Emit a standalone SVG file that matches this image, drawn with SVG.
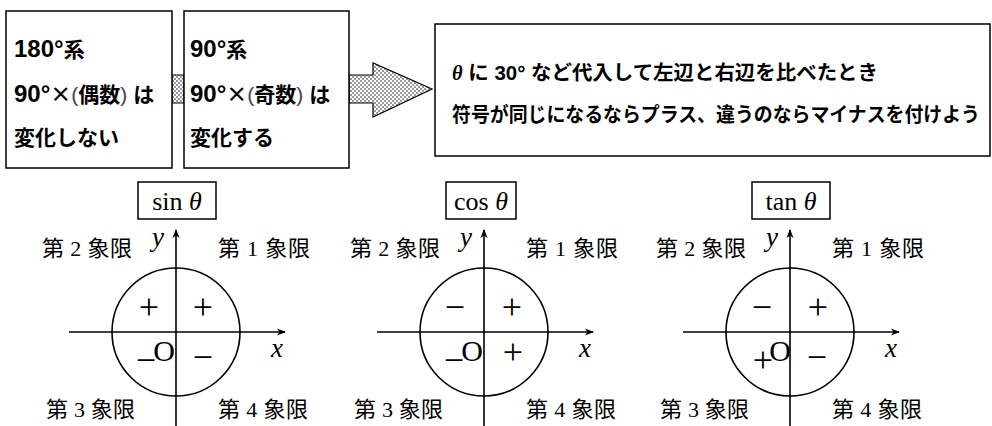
<svg xmlns="http://www.w3.org/2000/svg" width="992" height="426" viewBox="0 0 992 426">
<defs>
<pattern id="dots" width="4" height="4" patternUnits="userSpaceOnUse">
<rect width="4" height="4" fill="#fff"/>
<circle cx="1" cy="1" r="0.75" fill="#000"/>
<circle cx="3" cy="3" r="0.75" fill="#000"/>
</pattern>
<marker id="ah" viewBox="0 0 10 10" refX="9" refY="5" markerWidth="9" markerHeight="9" markerUnits="userSpaceOnUse" orient="auto">
<path d="M0,1 L10,5 L0,9 L3,5 Z" fill="#000"/>
</marker>
</defs>
<style>
.box{fill:#fff;stroke:#000;stroke-width:1.5}
.bt{font-family:"Liberation Sans","Noto Sans CJK JP",sans-serif;font-weight:bold;font-size:21px;fill:#000}
.bt2{font-family:"Liberation Sans","Noto Sans CJK JP",sans-serif;font-weight:bold;font-size:20px;fill:#000}
.num{font-size:24px}
.cj{font-family:"Noto Sans CJK JP",sans-serif}
.pn{font-weight:normal;fill:#444}
.q{font-family:"Liberation Serif","Noto Sans CJK JP",serif;font-size:22px;fill:#000}
.s{font-family:"Liberation Serif",serif;font-size:36px;fill:#000;text-anchor:middle}
.o{font-family:"Liberation Serif",serif;font-size:30px;fill:#000;text-anchor:middle}
.v{font-family:"Liberation Serif",serif;font-style:italic;font-size:27px;fill:#000;text-anchor:middle}
.lbl{font-family:"Liberation Serif",serif;font-size:26px;fill:#000;text-anchor:middle}
.ax{stroke:#000;stroke-width:1.6;fill:none}
.circ{stroke:#000;stroke-width:1.6;fill:none}
</style>

<g id="connectors">
<rect x="172" y="75" width="12" height="28" fill="url(#dots)" stroke="#000" stroke-width="1"/>
<path d="M349,75 L373,75 L373,63 L432,89 L373,117 L373,103 L349,103 Z" fill="url(#dots)" stroke="#000" stroke-width="1.2"/>
</g>

<g id="box1">
<rect class="box" x="6" y="11" width="166" height="157"/>
<text class="bt" x="14" y="57"><tspan class="num">180°</tspan>系</text>
<text class="bt" x="14" y="102"><tspan class="num">90°</tspan><tspan class="cj">×</tspan><tspan class="pn">(</tspan>偶数<tspan class="pn">)</tspan> は</text>
<text class="bt" x="14" y="145">変化しない</text>
</g>

<g id="box2">
<rect class="box" x="184" y="11" width="165" height="157"/>
<text class="bt" x="190" y="57"><tspan class="num">90°</tspan>系</text>
<text class="bt" x="190" y="102"><tspan class="num">90°</tspan><tspan class="cj">×</tspan><tspan class="pn">(</tspan>奇数<tspan class="pn">)</tspan> は</text>
<text class="bt" x="190" y="145">変化する</text>
</g>

<g id="box3">
<rect class="box" x="435" y="24" width="555" height="132"/>
<text class="bt2" x="452" y="80" textLength="426" lengthAdjust="spacingAndGlyphs"><tspan font-family="Liberation Serif" font-style="italic">θ</tspan> に 30° など代入して左辺と右辺を比べたとき</text>
<text class="bt2" x="452" y="122" textLength="528" lengthAdjust="spacingAndGlyphs">符号が同じになるならプラス、違うのならマイナスを付けよう</text>
</g>

<g id="sin">
<rect class="box" x="138" y="182" width="78" height="37"/>
<text class="lbl" x="177" y="210">sin <tspan font-style="italic">θ</tspan></text>
<circle class="circ" cx="176" cy="332" r="64"/>
<line class="ax" x1="69" y1="332" x2="285" y2="332" marker-end="url(#ah)"/>
<line class="ax" x1="176" y1="426" x2="176" y2="230" marker-end="url(#ah)"/>
<text class="q" x="42" y="256" textLength="90">第 2 象限</text>
<text class="q" x="218" y="256" textLength="92">第 1 象限</text>
<text class="q" x="46" y="417" textLength="89">第 3 象限</text>
<text class="q" x="218" y="417" textLength="90">第 4 象限</text>
<text class="v" x="158" y="246">y</text>
<text class="v" x="277" y="357">x</text>
<text class="o" x="164" y="361">O</text>
<text class="s" x="149" y="319">+</text>
<text class="s" x="203" y="319">+</text>
<text class="s" x="146" y="372">−</text>
<text class="s" x="203" y="369">−</text>
</g>

<g id="cos" transform="translate(308,0)">
<rect class="box" x="138" y="182" width="70" height="37"/>
<text class="lbl" x="173" y="210">cos <tspan font-style="italic">θ</tspan></text>
<circle class="circ" cx="176" cy="332" r="64"/>
<line class="ax" x1="69" y1="332" x2="285" y2="332" marker-end="url(#ah)"/>
<line class="ax" x1="176" y1="426" x2="176" y2="230" marker-end="url(#ah)"/>
<text class="q" x="42" y="256" textLength="90">第 2 象限</text>
<text class="q" x="218" y="256" textLength="92">第 1 象限</text>
<text class="q" x="46" y="417" textLength="89">第 3 象限</text>
<text class="q" x="218" y="417" textLength="90">第 4 象限</text>
<text class="v" x="158" y="246">y</text>
<text class="v" x="277" y="357">x</text>
<text class="o" x="164" y="361">O</text>
<text class="s" x="147" y="319">−</text>
<text class="s" x="204" y="319">+</text>
<text class="s" x="146" y="372">−</text>
<text class="s" x="205" y="364">+</text>
</g>

<g id="tan" transform="translate(614,0)">
<rect class="box" x="138" y="182" width="78" height="37"/>
<text class="lbl" x="177" y="210">tan <tspan font-style="italic">θ</tspan></text>
<circle class="circ" cx="176" cy="332" r="64"/>
<line class="ax" x1="69" y1="332" x2="285" y2="332" marker-end="url(#ah)"/>
<line class="ax" x1="176" y1="426" x2="176" y2="230" marker-end="url(#ah)"/>
<text class="q" x="42" y="256" textLength="90">第 2 象限</text>
<text class="q" x="218" y="256" textLength="92">第 1 象限</text>
<text class="q" x="46" y="417" textLength="89">第 3 象限</text>
<text class="q" x="218" y="417" textLength="90">第 4 象限</text>
<text class="v" x="158" y="246">y</text>
<text class="v" x="277" y="357">x</text>
<text class="o" x="166" y="361">O</text>
<text class="s" x="148" y="319">−</text>
<text class="s" x="204" y="319">+</text>
<text class="s" x="149" y="372">+</text>
<text class="s" x="203" y="369">−</text>
</g>
</svg>
